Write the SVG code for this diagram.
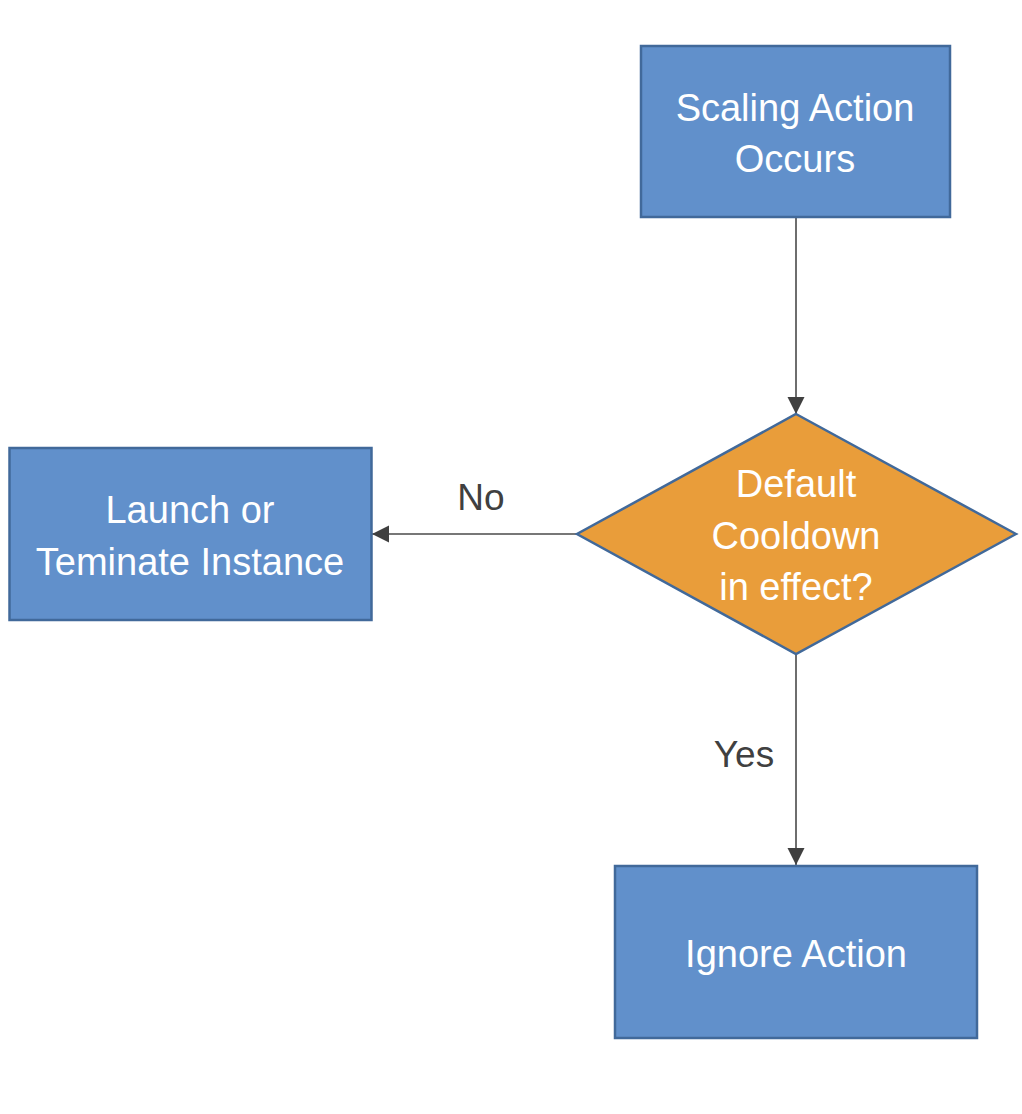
<svg xmlns="http://www.w3.org/2000/svg" width="1022" height="1114" viewBox="0 0 1022 1114">
<style>
.box{fill:#6190CB;stroke:#41699A;stroke-width:2.5}
.dia{fill:#E99D3A;stroke:#41699A;stroke-width:2.5}
.t{font-family:"Liberation Sans",Arial,sans-serif;font-size:38px;fill:#FFFFFF;text-anchor:middle}
.lbl{font-family:"Liberation Sans",Arial,sans-serif;font-size:37px;fill:#404040;text-anchor:middle}
.edge{stroke:#4A4A4A;stroke-width:1.6;fill:none}
</style>
<defs>
<marker id="arr" markerUnits="userSpaceOnUse" markerWidth="18" markerHeight="18" refX="17" refY="8.5" orient="auto">
<path d="M0,0 L17,8.5 L0,17 z" fill="#404040"/>
</marker>
</defs>
<rect width="1022" height="1114" fill="#FFFFFF"/>
<g id="connectors">
<line class="edge" x1="796" y1="218" x2="796" y2="414" marker-end="url(#arr)"/>
<line class="edge" x1="577" y1="534" x2="372" y2="534" marker-end="url(#arr)"/>
<line class="edge" x1="796" y1="655" x2="796" y2="865" marker-end="url(#arr)"/>
<text class="lbl" x="481" y="510">No</text>
<text class="lbl" x="744" y="767">Yes</text>
</g>
<g id="scaling">
<rect class="box" x="641" y="46" width="309" height="171"/>
<text class="t" x="795" y="121">Scaling Action</text>
<text class="t" x="795" y="172">Occurs</text>
</g>
<g id="decision">
<polygon class="dia" points="796,414 1016,534 796,654 577,534"/>
<text class="t" x="796" y="497">Default</text>
<text class="t" x="796" y="549">Cooldown</text>
<text class="t" x="796" y="600">in effect?</text>
</g>
<g id="launch">
<rect class="box" x="9.5" y="448" width="362" height="172"/>
<text class="t" x="190" y="523">Launch or</text>
<text class="t" x="190" y="575">Teminate Instance</text>
</g>
<g id="ignore">
<rect class="box" x="615" y="866" width="362" height="172"/>
<text class="t" x="796" y="967">Ignore Action</text>
</g>
</svg>
